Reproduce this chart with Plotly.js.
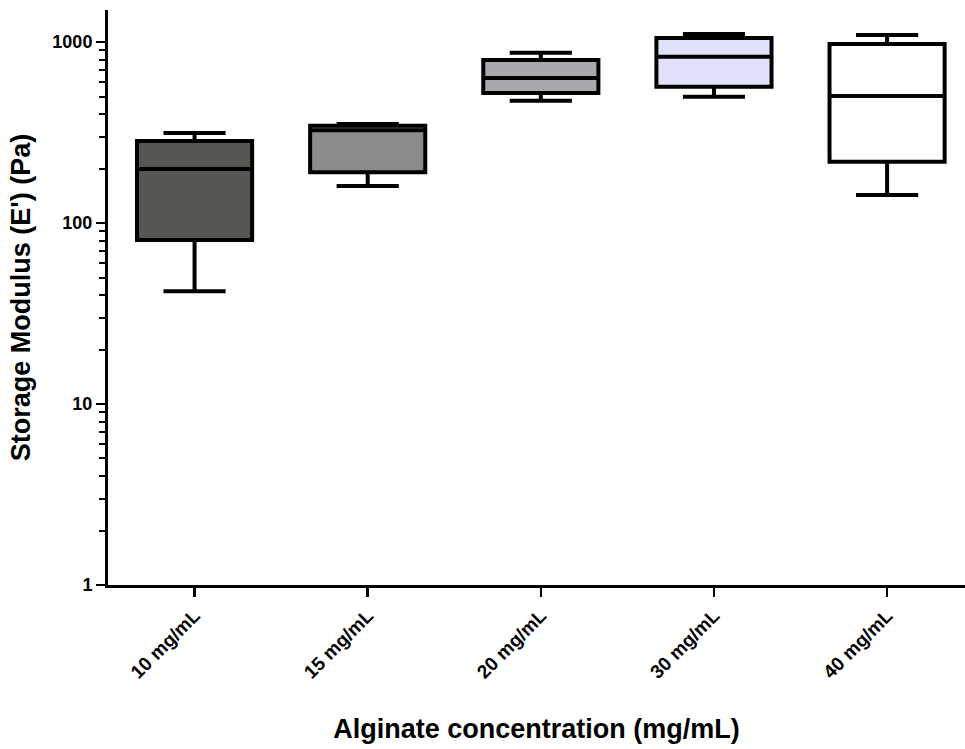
<!DOCTYPE html>
<html>
<head>
<meta charset="utf-8">
<script src="https://cdn.plot.ly/plotly-3.0.1.min.js"></script>
<style>body{margin:0;background:#fff}#chart{width:965px;height:749px}</style>
</head>
<body>
<div id="chart"></div>
<script>
const categories = ["10 mg/mL", "15 mg/mL", "20 mg/mL", "30 mg/mL", "40 mg/mL"];
const lowerWhisker = [42, 160, 474, 499, 143];
const q1Values     = [80.5, 191, 523, 566, 218];
const medianValues = [199, 326, 632, 829, 503];
const q3Values     = [284, 345, 795, 1052, 975];
const upperWhisker = [314, 352, 873, 1107, 1093];
const fillColors   = ["#575752", "#8b8b8b", "#a9a9ad", "#e1e1fb", "#ffffff"];

const traces = categories.map((c, i) => ({
  type: "box",
  x: [c],
  q1: [q1Values[i]],
  median: [medianValues[i]],
  q3: [q3Values[i]],
  lowerfence: [lowerWhisker[i]],
  upperfence: [upperWhisker[i]],
  fillcolor: fillColors[i],
  line: {color: "#000000", width: 4},
  width: 0.665,
  whiskerwidth: 0.54,
  boxpoints: false,
  showlegend: false,
  hoverinfo: "skip"
}));

const font = "Arial, 'Liberation Sans', sans-serif";
const layout = {
  width: 965, height: 749,
  margin: {l: 108, r: 0, t: 10, b: 164},
  paper_bgcolor: "#ffffff",
  plot_bgcolor: "#ffffff",
  showlegend: false,
  boxmode: "overlay",
  font: {family: font, color: "#000000"},
  xaxis: {
    type: "category",
    range: [-0.5, 4.45],
    showline: true, linecolor: "#000", linewidth: 3,
    ticks: "outside", ticklen: 9, tickwidth: 2.5, tickcolor: "#000",
    tickangle: -45,
    tickfont: {family: font, size: 19, color: "#000", weight: "bold"},
    showgrid: false, zeroline: false,
    automargin: false,
    title: {text: "Alginate concentration (mg/mL)", font: {family: font, size: 27, color: "#000", weight: "bold"}, standoff: 38}
  },
  yaxis: {
    type: "log",
    range: [0, 3.177],
    showline: true, linecolor: "#000", linewidth: 3,
    ticks: "outside", ticklen: 9, tickwidth: 2.5, tickcolor: "#000",
    tickvals: [1, 10, 100, 1000],
    ticktext: ["1", "10", "100", "1000"],
    tickfont: {family: font, size: 18, color: "#000", weight: "bold"},
    minor: {ticks: "outside", ticklen: 6, tickwidth: 2, tickcolor: "#000", dtick: "D1", showgrid: false},
    showgrid: false, zeroline: false,
    automargin: false,
    title: {text: "Storage Modulus (E') (Pa)", font: {family: font, size: 27, color: "#000", weight: "bold"}, standoff: 14}
  }
};

Plotly.newPlot("chart", traces, layout, {displayModeBar: false, staticPlot: true});
</script>
</body>
</html>
